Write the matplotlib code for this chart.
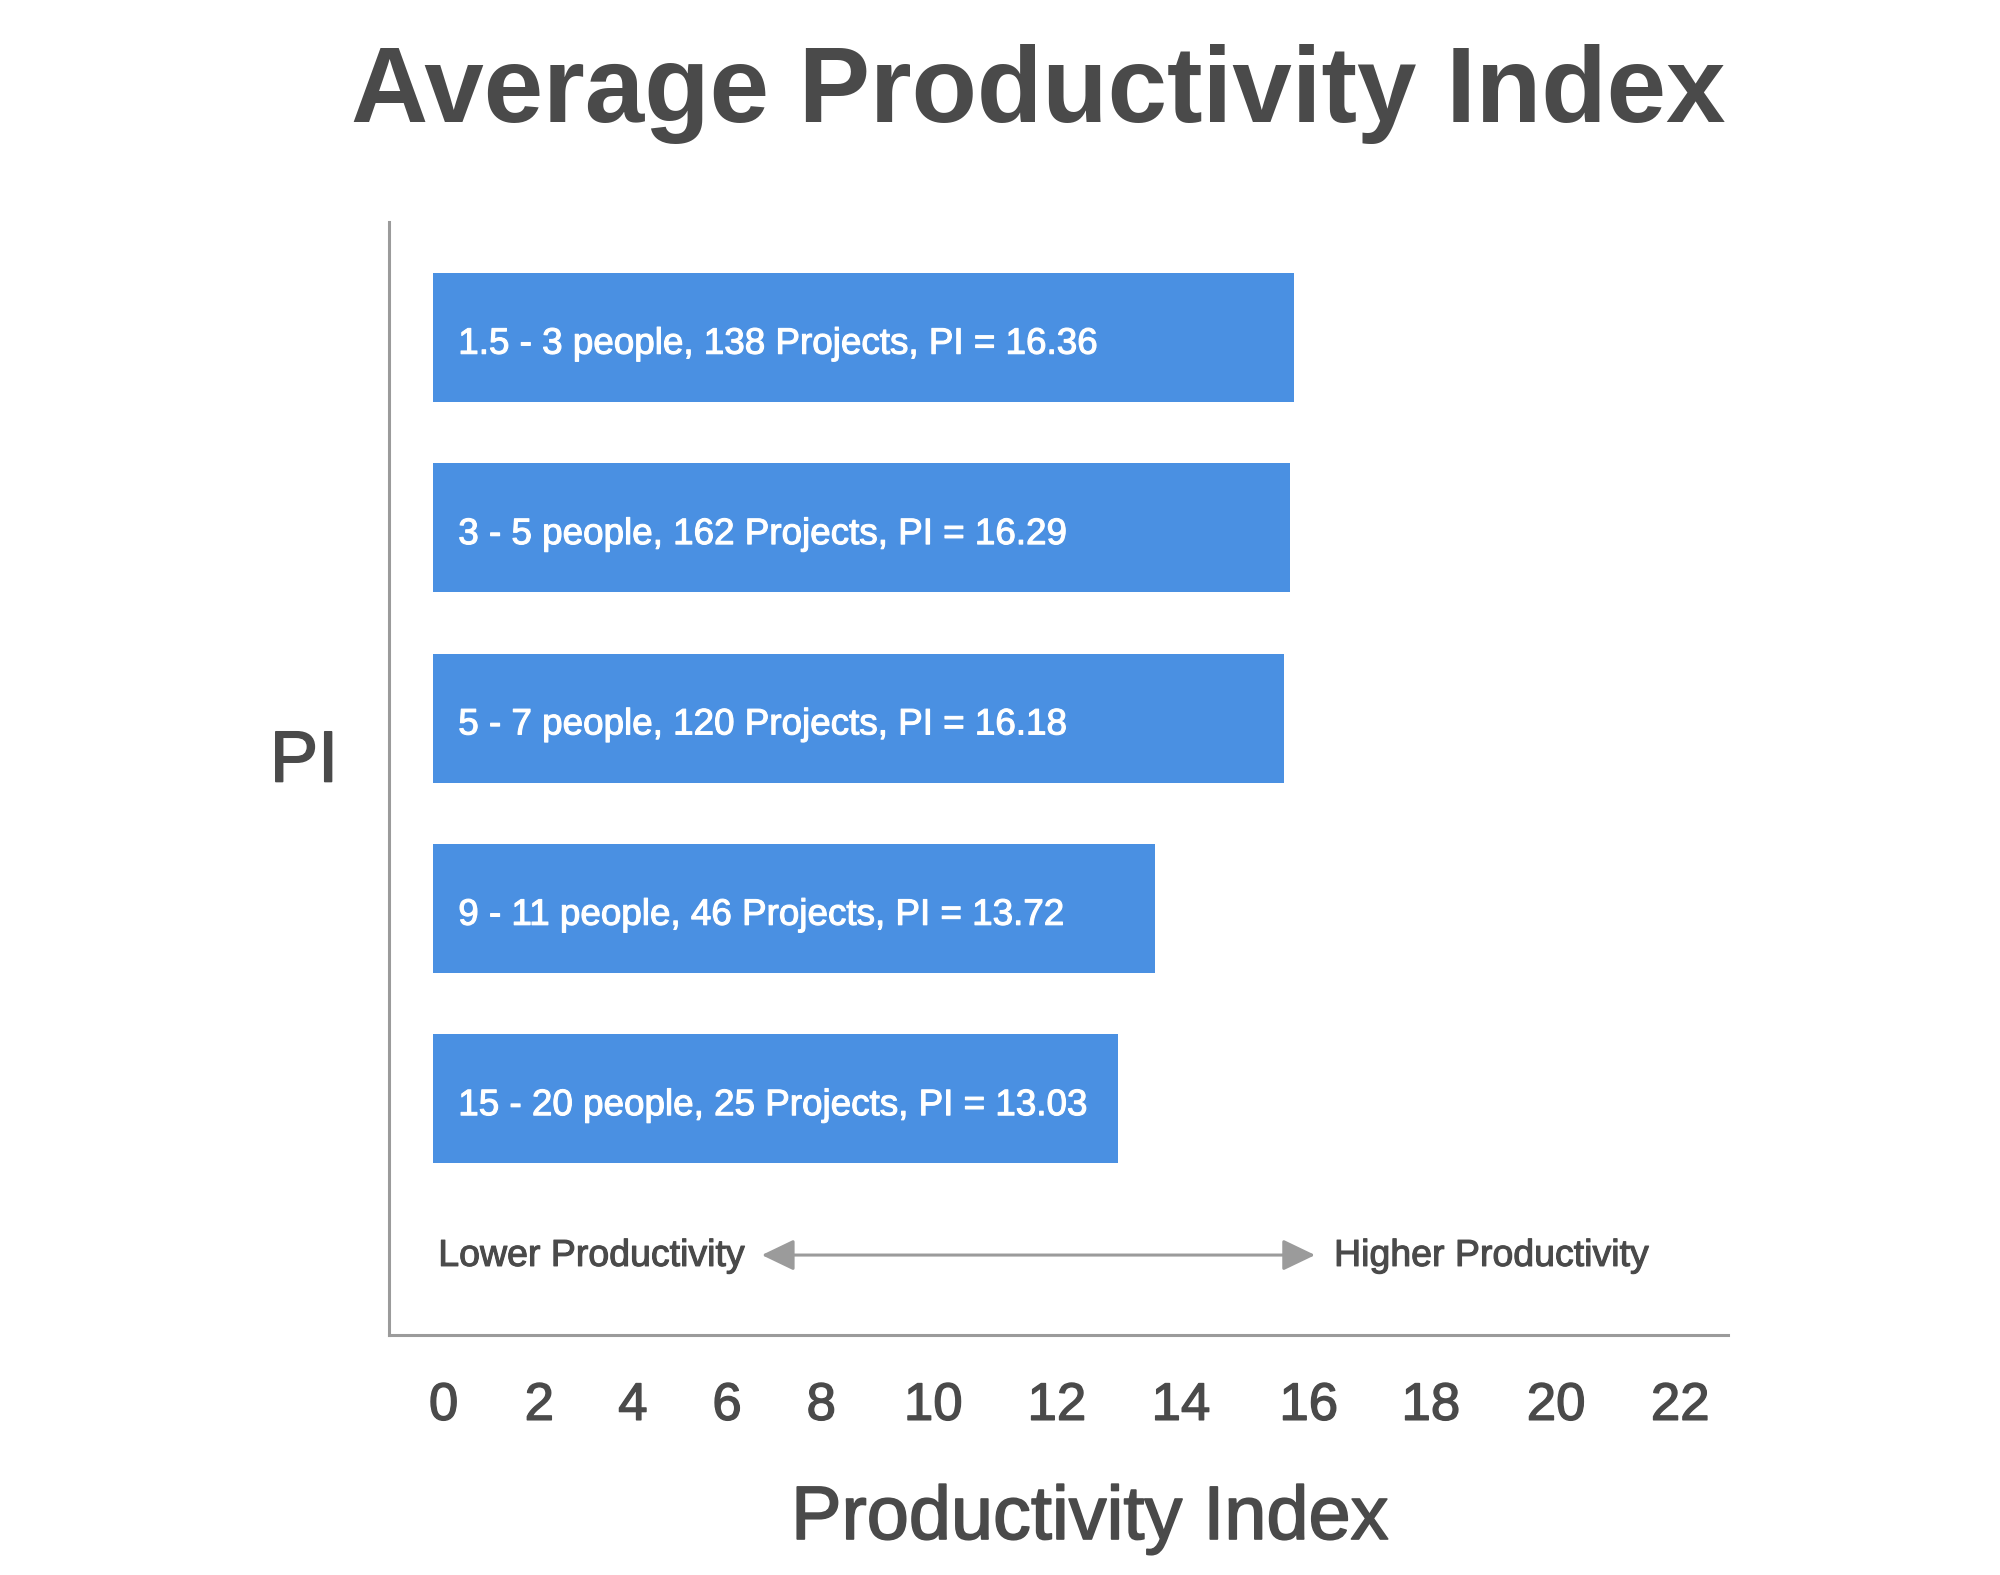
import matplotlib
matplotlib.use("Agg")
import matplotlib.pyplot as plt
from matplotlib.patches import FancyArrowPatch
import matplotlib.patheffects as pe

# ---- data ----
team_sizes = ["1.5 - 3", "3 - 5", "5 - 7", "9 - 11", "15 - 20"]
projects = [138, 162, 120, 46, 25]
pi_values = [16.36, 16.29, 16.18, 13.72, 13.03]
tick_labels = ["0", "2", "4", "6", "8", "10", "12", "14", "16", "18", "20", "22"]
# where the tick labels sit on the drawn scale
tick_positions = [0.2, 2.02, 3.8, 5.59, 7.38, 9.51, 11.86, 14.22, 16.65, 18.97, 21.35, 23.71]

TEXT = "#4a4a4a"
GRAY = "#9b9b9b"
BLUE = "#4a90e2"
plt.rcParams['font.family'] = ['Liberation Sans', 'DejaVu Sans']


def medium(color, lw=0.9):
    return [pe.withStroke(linewidth=lw, foreground=color)]


fig = plt.figure(figsize=(20, 15.75), dpi=100)
ax = fig.add_axes([389 / 2000, 1 - 1335 / 1575, (1728 - 389) / 2000, (1335 - 222) / 1575])

ypos = list(range(len(pi_values)))
ax.barh(ypos, pi_values, height=0.678, color=BLUE, zorder=2)

for y, size, n, pi in zip(ypos, team_sizes, projects, pi_values):
    ax.text(0.48, y + 0.085, f"{size} people, {n} Projects, PI = {pi:.2f}",
            color="white", fontsize=26.5, ha="left", va="baseline", zorder=3,
            path_effects=medium("white", 0.8))

ax.set_xlim(-0.837, 24.62)
ax.set_ylim(5.24, -0.607)

ax.set_xticks(tick_positions)
ax.set_xticklabels(tick_labels)
ax.set_yticks([])
ax.tick_params(axis="x", length=0, pad=33, labelsize=38, labelcolor=TEXT)
for lab in ax.get_xticklabels():
    lab.set_path_effects(medium(TEXT, 1.0))

for s in ["top", "right"]:
    ax.spines[s].set_visible(False)
for s in ["left", "bottom"]:
    ax.spines[s].set_color(GRAY)
    ax.spines[s].set_linewidth(2.2)

# productivity direction arrow
arrow = FancyArrowPatch((6.25, 4.82), (16.77, 4.82),
                        arrowstyle="<|-|>,head_length=1.0,head_width=0.48",
                        mutation_scale=20, color=GRAY, linewidth=2.2,
                        shrinkA=0, shrinkB=0, zorder=2)
ax.add_patch(arrow)
ax.text(0.1, 4.877, "Lower Productivity", fontsize=27, color=TEXT,
        ha="left", va="baseline", path_effects=medium(TEXT, 0.8))
ax.text(17.13, 4.877, "Higher Productivity", fontsize=27, color=TEXT,
        ha="left", va="baseline", path_effects=medium(TEXT, 0.8))

ax.set_xlabel("Productivity Index", fontsize=54.5, color=TEXT, path_effects=medium(TEXT, 1.2))
ax.xaxis.set_label_coords((1090 - 389) / 1339, (1335 - 1484) / 1113)
ax.xaxis.label.set_va("top")

ax.set_ylabel("PI", fontsize=52, color=TEXT, rotation=0, ha="center", va="center",
              path_effects=medium(TEXT, 1.2))
ax.yaxis.set_label_coords((304 - 389) / 1339, (1335 - 763) / 1113)

fig.text(1038 / 2000, 1 - 122 / 1575, "Average Productivity Index", fontsize=77,
         fontweight="bold", color=TEXT, ha="center", va="baseline")

fig.savefig("out.png", dpi=100, facecolor="white")
